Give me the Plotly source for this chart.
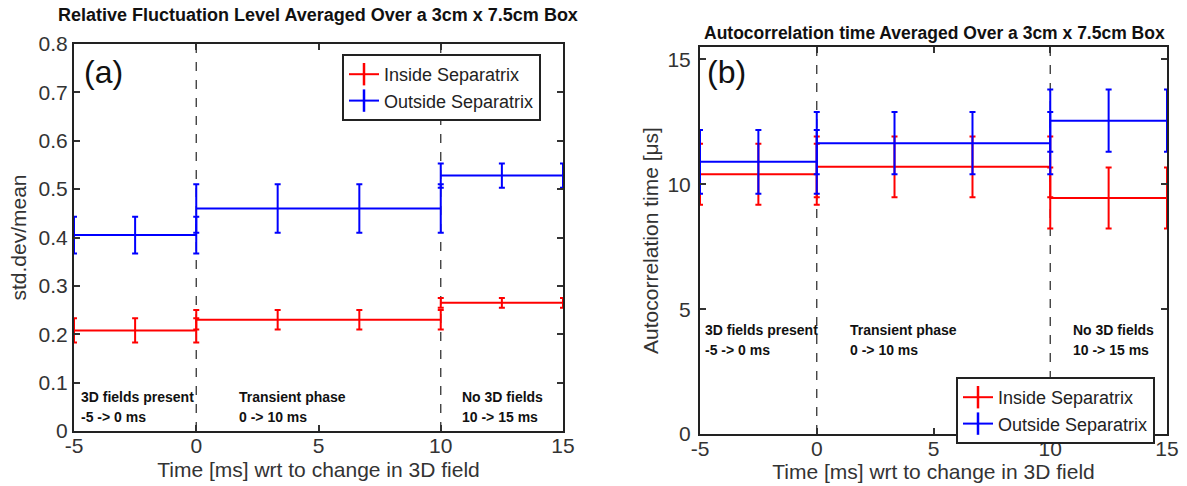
import plotly.graph_objects as go

W, H = 1187, 486

# ---- data ----
t_pre = [-5, -2.5, 0]
t_trans = [0, 3.33, 6.67, 10]
t_post = [10, 12.5, 15]
phase_times = [t_pre, t_trans, t_post]

# (a) relative fluctuation level
a_in_mean = [0.208, 0.230, 0.265]
a_in_err = [0.025, 0.020, 0.010]
a_out_mean = [0.405, 0.460, 0.528]
a_out_err = [0.038, 0.050, 0.025]

# (b) autocorrelation time [us]
b_in_mean = [10.4, 10.7, 9.45]
b_in_err = [1.22, 1.22, 1.22]
b_out_mean = [10.9, 11.65, 12.55]
b_out_err = [1.28, 1.25, 1.25]

series_names = ["Inside Separatrix", "Outside Separatrix"]
series_colors = ["#ff0000", "#0000ff"]
phase_line1 = ["3D fields present", "Transient phase", "No 3D fields"]
phase_line2 = ["-5 -> 0 ms", "0 -> 10 ms", "10 -> 15 ms"]
phase_label_x_a = [-4.8, 1.65, 10.8]
phase_label_x_b = [-4.87, 1.34, 10.9]
vlines = [0, 10]

FONT = "Liberation Sans, Arial, sans-serif"

fig = go.Figure()

def add_series(means, errs, name, color, xa, ya):
    for ts, m, e in zip(phase_times, means, errs):
        fig.add_trace(go.Scatter(
            x=ts, y=[m] * len(ts), mode="lines", name=name,
            line=dict(color=color, width=2),
            error_y=dict(type="data", array=[e] * len(ts), color=color, thickness=2, width=3),
            xaxis=xa, yaxis=ya, showlegend=False, cliponaxis=False,
        ))

def add_legend_item(name, color, xa, ya, legend):
    fig.add_trace(go.Scatter(
        x=[None], y=[None], mode="lines+markers", name=name,
        line=dict(color=color, width=2),
        marker=dict(symbol="line-ns-open", size=16, color=color, line=dict(width=2.5, color=color)),
        xaxis=xa, yaxis=ya, legend=legend, showlegend=True,
    ))

add_series(a_in_mean, a_in_err, series_names[0], series_colors[0], "x", "y")
add_series(a_out_mean, a_out_err, series_names[1], series_colors[1], "x", "y")
add_series(b_in_mean, b_in_err, series_names[0], series_colors[0], "x2", "y2")
add_series(b_out_mean, b_out_err, series_names[1], series_colors[1], "x2", "y2")
for nm, col in zip(series_names, series_colors):
    add_legend_item(nm, col, "x", "y", "legend")
for nm, col in zip(series_names, series_colors):
    add_legend_item(nm, col, "x2", "y2", "legend2")

def xd(a, b):
    return [a / W, b / W]

def yd(top, bottom):
    return [1 - bottom / H, 1 - top / H]

axis_common = dict(
    showgrid=False, zeroline=False, showline=True, linecolor="#222", linewidth=2,
    mirror="ticks", ticks="inside", ticklen=6, tickcolor="#333", tickwidth=1.5,
    tickfont=dict(family=FONT, size=21, color="#333"), automargin=False,
)

fig.update_layout(
    template="none",
    width=W, height=H, margin=dict(l=0, r=0, t=0, b=0, pad=0),
    paper_bgcolor="white", plot_bgcolor="white",
    font=dict(family=FONT, color="#222"),
    xaxis=dict(domain=xd(74, 563), range=[-5, 15], tickvals=[-5, 0, 5, 10, 15],
               ticktext=["-5", "0", "5", "10", "15"], anchor="y",
               title=dict(text="Time [ms] wrt to change in 3D field", font=dict(size=21, color="#333"), standoff=6),
               ticklabelstandoff=-5, **axis_common),
    yaxis=dict(domain=yd(44, 431), range=[0, 0.8], tickvals=[0, 0.1, 0.2, 0.3, 0.4, 0.5, 0.6, 0.7, 0.8],
               ticktext=["0", "0.1", "0.2", "0.3", "0.4", "0.5", "0.6", "0.7", "0.8"], anchor="x",
               title=dict(text="std.dev/mean", font=dict(size=21, color="#333"), standoff=6),
               **axis_common),
    xaxis2=dict(domain=xd(700, 1167), range=[-5, 15], tickvals=[-5, 0, 5, 10, 15],
                ticktext=["-5", "0", "5", "10", "15"], anchor="y2",
                title=dict(text="Time [ms] wrt to change in 3D field", font=dict(size=21, color="#333"), standoff=3),
                ticklabelstandoff=-5, **axis_common),
    yaxis2=dict(domain=yd(47, 434), range=[0, 15.5], tickvals=[0, 5, 10, 15],
                ticktext=["0", "5", "10", "15"], anchor="x2",
                title=dict(text="Autocorrelation time [μs]", font=dict(size=21, color="#333"), standoff=3),
                ticklabelstandoff=3, **axis_common),
    legend=dict(x=342 / W, y=1 - 54 / H, xanchor="left", yanchor="top",
                bordercolor="#222", borderwidth=2, bgcolor="white",
                font=dict(family=FONT, size=18, color="#222"),
                tracegroupgap=0, itemwidth=30),
    legend2=dict(x=956 / W, y=1 - 377 / H, xanchor="left", yanchor="top",
                 bordercolor="#222", borderwidth=2, bgcolor="white",
                 font=dict(family=FONT, size=18, color="#222"),
                 tracegroupgap=0, itemwidth=30),
    showlegend=True,
)

shapes = []
for xr, yr, ymax in [("x", "y", 0.8), ("x2", "y2", 15.5)]:
    for v in vlines:
        shapes.append(dict(type="line", xref=xr, yref=yr, x0=v, x1=v, y0=0, y1=ymax,
                           line=dict(color="#333", width=1.3, dash="dash"), layer="below"))
fig.update_layout(shapes=shapes)

ann = []
ann.append(dict(text="<b>Relative Fluctuation Level Averaged Over a 3cm x 7.5cm Box</b>",
                x=318 / W, y=1 - 15 / H, xref="paper", yref="paper", showarrow=False,
                font=dict(family=FONT, size=18, color="#111"), xanchor="center", yanchor="middle"))
ann.append(dict(text="<b>Autocorrelation time Averaged Over a 3cm x 7.5cm Box</b>",
                x=934 / W, y=1 - 33 / H, xref="paper", yref="paper", showarrow=False,
                font=dict(family=FONT, size=17.5, color="#111"), xanchor="center", yanchor="middle"))
ann.append(dict(text="(a)", x=82 / W, y=1 - 72 / H, xref="paper", yref="paper", showarrow=False,
                font=dict(family=FONT, size=32, color="#111"), xanchor="left", yanchor="middle"))
ann.append(dict(text="(b)", x=705 / W, y=1 - 72 / H, xref="paper", yref="paper", showarrow=False,
                font=dict(family=FONT, size=32, color="#111"), xanchor="left", yanchor="middle"))
for xr, xs, y1, y2 in [("x", phase_label_x_a, 397, 417), ("x2", phase_label_x_b, 330, 350)]:
    for l1, l2, px in zip(phase_line1, phase_line2, xs):
        for txt, yp in [(l1, y1), (l2, y2)]:
            ann.append(dict(text="<b>" + txt + "</b>", x=px, y=1 - yp / H, xref=xr, yref="paper",
                            showarrow=False, align="left", xanchor="left", yanchor="middle",
                            font=dict(family=FONT, size=14, color="#111")))
fig.update_layout(annotations=ann)

fig.write_html("out.html")
